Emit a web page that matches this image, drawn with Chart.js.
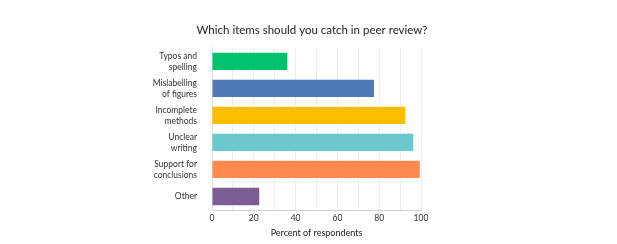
<!DOCTYPE html>
<html>
<head>
<meta charset="utf-8">
<script src="https://cdn.jsdelivr.net/npm/chart.js@4"></script>
<style>
  html, body { margin: 0; padding: 0; background: #fff; }
</style>
</head>
<body>
<canvas id="peerChart" width="617" height="244"></canvas>
<script>
const categories = [
    ["Typos and", "spelling"],
    ["Mislabelling", "of figures"],
    ["Incomplete", "methods"],
    ["Unclear", "writing"],
    ["Support for", "conclusions"],
    "Other"
];
const percentValues = [36, 77.5, 92.5, 96.3, 99.4, 22.6];
const barColors = ["#00c16e", "#4e7ab5", "#fbbf00", "#6bc8cc", "#ff8a4c", "#7c5e94"];

// keep the title centred on the page, not on the padded box
const centreTitle = {
    id: "centreTitle",
    afterLayout(chart) {
        const t = chart.titleBlock;
        if (!t) return;
        t.left = 0;
        t.right = 624;
    }
};

const ctx = document.getElementById("peerChart");

new Chart(ctx, {
    type: "bar",
    data: {
        labels: categories,
        datasets: [{
            data: percentValues,
            backgroundColor: barColors,
            categoryPercentage: 0.8,
            barPercentage: 0.8
        }]
    },
    options: {
        indexAxis: "y",
        responsive: false,
        animation: false,
        layout: {
            padding: { left: 140, right: 196, top: 0, bottom: 6 }
        },
        plugins: {
            legend: { display: false },
            tooltip: { enabled: false },
            title: {
                display: true,
                text: "Which items should you catch in peer review?",
                color: "#222",
                font: { family: "Lato", size: 11.5, weight: "normal" },
                padding: { top: 23, bottom: 11 }
            }
        },
        scales: {
            x: {
                min: 0,
                max: 100,
                ticks: {
                    stepSize: 10,
                    maxRotation: 0,
                    autoSkip: false,
                    color: "#333",
                    padding: 3,
                    font: { family: "Lato", size: 8.5 },
                    callback: v => (v % 20 === 0 ? v : "")
                },
                grid: { color: "#ededed", drawTicks: false },
                border: { color: "#d0d0d0" },
                title: {
                    display: true,
                    text: "Percent of respondents",
                    color: "#222",
                    font: { family: "Lato", size: 9 },
                    padding: { top: 1, bottom: 0 }
                }
            },
            y: {
                afterFit: scale => { scale.width = 72; },
                ticks: {
                    autoSkip: false,
                    color: "#333",
                    padding: 7,
                    font: { family: "Lato", size: 8.5, lineHeight: 1.3 }
                },
                grid: { display: false },
                border: { color: "#e0e0e0" }
            }
        }
    },
    plugins: [centreTitle]
});
</script>
</body>
</html>
